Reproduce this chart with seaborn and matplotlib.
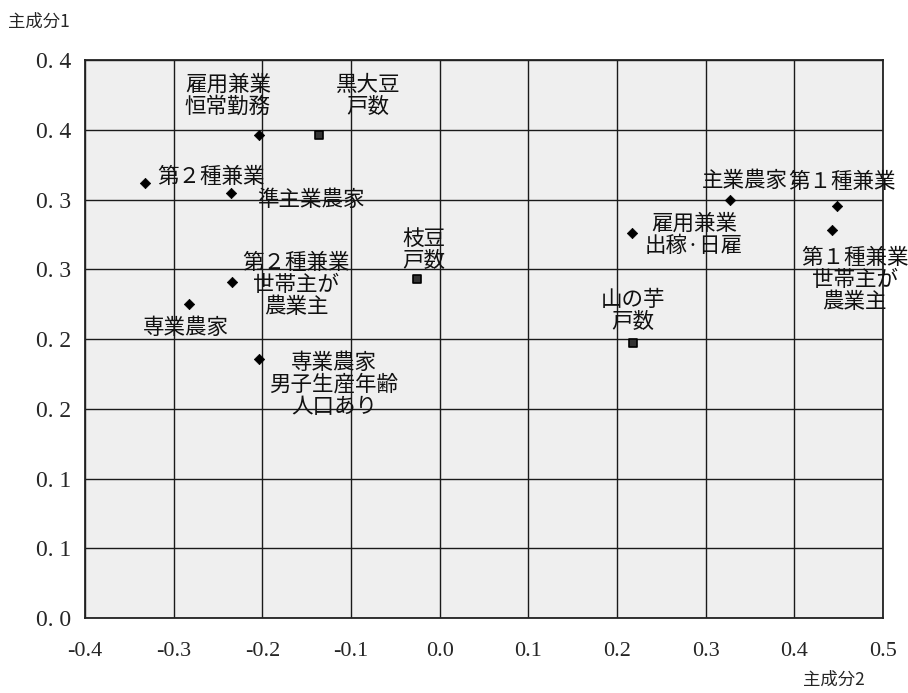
import matplotlib
matplotlib.use("Agg")
import matplotlib.pyplot as plt
import pandas as pd
import seaborn as sns

# 各項目の主成分得点
names = ["雇用兼業\n恒常勤務", "黒大豆\n戸数", "第２種兼業", "準主業農家",
         "第２種兼業\n世帯主が\n農業主", "専業農家", "専業農家\n男子生産年齢\n人口あり",
         "枝豆\n戸数", "山の芋\n戸数", "雇用兼業\n出稼·日雇", "主業農家",
         "第１種兼業", "第１種兼業\n世帯主が\n農業主"]
pc2 = [-0.204, -0.136, -0.332, -0.235, -0.234, -0.283, -0.204,
       -0.026, 0.218, 0.217, 0.327, 0.448, 0.442]
pc1 = [0.346, 0.346, 0.312, 0.305, 0.241, 0.225, 0.186,
       0.243, 0.197, 0.276, 0.300, 0.295, 0.278]
kind = ["農家", "作物", "農家", "農家", "農家", "農家", "農家",
        "作物", "作物", "農家", "農家", "農家", "農家"]

ytick_vals = [0.0, 0.05, 0.10, 0.15, 0.20, 0.25, 0.30, 0.35, 0.40]
ytick_labels = ["0. 0", "0. 1", "0. 1", "0. 2", "0. 2", "0. 3", "0. 3", "0. 4", "0. 4"]
xtick_vals = [-0.4, -0.3, -0.2, -0.1, 0.0, 0.1, 0.2, 0.3, 0.4, 0.5]
xtick_labels = ["-0.4", "-0.3", "-0.2", "-0.1", "0.0", "0.1", "0.2", "0.3", "0.4", "0.5"]

# ラベル位置のずれ (px, 上向き正)
label_off = [(-31, 40), (49, 39), (12, 6), (26, -7), (64, -3), (-3, -24), (75, -26),
             (7, 29), (0, 32), (62, -2), (15, 19), (5, 24), (23, -50)]
label_ha = ["center", "center", "left", "left", "center", "center", "center",
            "center", "center", "center", "center", "center", "center"]

df = pd.DataFrame({"pc2": pc2, "pc1": pc1, "kind": kind, "name": names})

sns.set_style("white")
plt.rcParams["font.family"] = ["Noto Sans CJK JP", "DejaVu Sans"]

fig = plt.figure(figsize=(9.08, 6.93), dpi=100)
ax = fig.add_axes([0.0936, 0.1082, 0.8789, 0.8052])
ax.set_facecolor("#efefef")

sns.scatterplot(data=df[df.kind == "農家"], x="pc2", y="pc1", marker="D", s=28,
                color="black", edgecolor="black", linewidth=0.5, ax=ax, zorder=3)
sns.scatterplot(data=df[df.kind == "作物"], x="pc2", y="pc1", marker="s", s=40,
                color="#333333", edgecolor="black", linewidth=1.2, ax=ax, zorder=3)

for i, row in df.iterrows():
    dx, dy = label_off[i]
    ax.annotate(row["name"], (row["pc2"], row["pc1"]),
                xytext=(dx * 0.72, dy * 0.72), textcoords="offset points",
                ha=label_ha[i], va="center", fontsize=15.5, linespacing=1.0,
                color="#111111", annotation_clip=False, zorder=4)

ax.set_xlim(-0.4, 0.5)
ax.set_ylim(0.0, 0.4)
ax.set_xticks(xtick_vals)
ax.set_xticklabels(xtick_labels, family="Liberation Serif", fontsize=16)
ax.set_yticks(ytick_vals)
ax.set_yticklabels(ytick_labels, family="Liberation Serif", fontsize=17)
ax.tick_params(axis="x", length=0, pad=17)
ax.tick_params(axis="y", length=0, pad=10)
ax.grid(True, color="#1a1a1a", linewidth=1.0)
ax.set_axisbelow(True)
for sp in ax.spines.values():
    sp.set_color("#222222")
    sp.set_linewidth(1.3)
ax.set_xlabel("")
ax.set_ylabel("")

fig.text(8 / 908, 1 - 22 / 693, "主成分1", fontsize=12.5, va="center", ha="left")
fig.text(834 / 908, 1 - 680 / 693, "主成分2", fontsize=12.5, va="center", ha="center")

fig.savefig("out.png", dpi=100)
